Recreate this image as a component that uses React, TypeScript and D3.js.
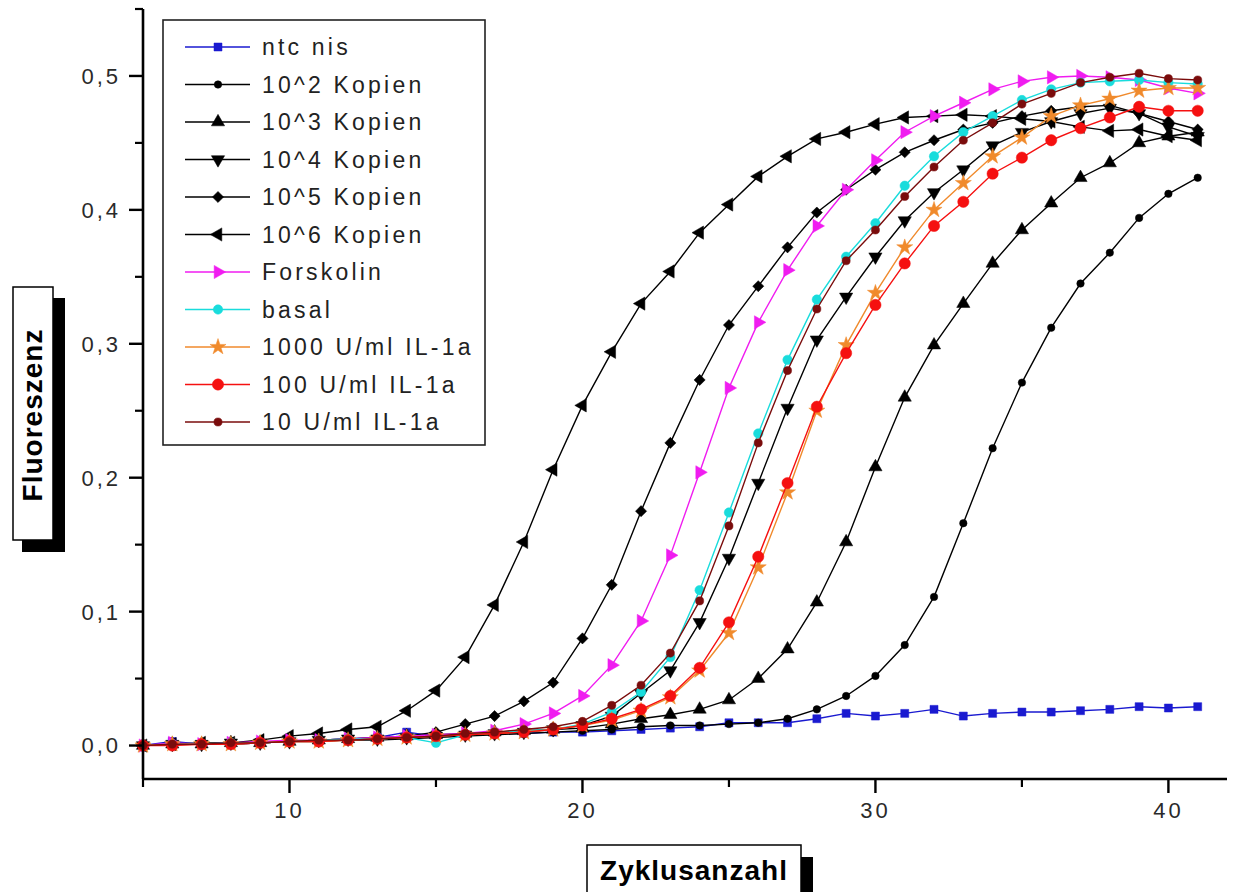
import React from 'react';
import * as d3 from 'd3';

// ---------- data ----------
const cycles = [5, 6, 7, 8, 9, 10, 11, 12, 13, 14, 15, 16, 17, 18, 19, 20, 21, 22, 23, 24, 25, 26, 27, 28, 29, 30, 31, 32, 33, 34, 35, 36, 37, 38, 39, 40, 41];

const ntcNis = [0.000, 0.003, 0.001, 0.001, 0.002, 0.003, 0.004, 0.005, 0.006, 0.010, 0.007, 0.008, 0.009, 0.009, 0.010, 0.010, 0.011, 0.012, 0.013, 0.014, 0.017, 0.017, 0.017, 0.020, 0.024, 0.022, 0.024, 0.027, 0.022, 0.024, 0.025, 0.025, 0.026, 0.027, 0.029, 0.028, 0.029];
const kop2 = [0.000, 0.001, 0.001, 0.001, 0.002, 0.003, 0.003, 0.004, 0.004, 0.005, 0.006, 0.007, 0.008, 0.009, 0.010, 0.011, 0.012, 0.014, 0.015, 0.015, 0.016, 0.017, 0.020, 0.027, 0.037, 0.052, 0.075, 0.111, 0.166, 0.222, 0.271, 0.312, 0.345, 0.368, 0.394, 0.412, 0.424];
const kop3 = [0.000, 0.001, 0.001, 0.002, 0.002, 0.003, 0.004, 0.005, 0.006, 0.007, 0.008, 0.009, 0.010, 0.011, 0.012, 0.013, 0.016, 0.020, 0.023, 0.027, 0.034, 0.050, 0.072, 0.107, 0.152, 0.208, 0.260, 0.299, 0.330, 0.360, 0.385, 0.405, 0.424, 0.435, 0.450, 0.455, 0.458];
const kop4 = [0.000, 0.001, 0.001, 0.002, 0.002, 0.003, 0.004, 0.005, 0.005, 0.006, 0.007, 0.008, 0.009, 0.010, 0.012, 0.015, 0.022, 0.039, 0.056, 0.092, 0.140, 0.196, 0.252, 0.303, 0.335, 0.365, 0.392, 0.413, 0.430, 0.448, 0.458, 0.466, 0.472, 0.476, 0.472, 0.462, 0.455];
const kop5 = [0.000, 0.001, 0.001, 0.002, 0.002, 0.003, 0.004, 0.004, 0.005, 0.007, 0.010, 0.016, 0.022, 0.033, 0.047, 0.080, 0.120, 0.175, 0.226, 0.273, 0.314, 0.343, 0.372, 0.398, 0.415, 0.430, 0.443, 0.452, 0.460, 0.465, 0.470, 0.474, 0.477, 0.478, 0.472, 0.466, 0.460];
const kop6 = [0.000, 0.001, 0.002, 0.002, 0.004, 0.007, 0.009, 0.012, 0.014, 0.026, 0.041, 0.066, 0.105, 0.152, 0.206, 0.254, 0.294, 0.330, 0.354, 0.383, 0.404, 0.425, 0.440, 0.453, 0.458, 0.464, 0.469, 0.470, 0.471, 0.470, 0.468, 0.466, 0.462, 0.459, 0.460, 0.455, 0.452];
const forskolin = [0.000, 0.002, 0.001, 0.002, 0.003, 0.004, 0.004, 0.005, 0.006, 0.007, 0.008, 0.009, 0.011, 0.016, 0.024, 0.037, 0.060, 0.093, 0.142, 0.204, 0.267, 0.316, 0.355, 0.388, 0.415, 0.437, 0.458, 0.470, 0.480, 0.490, 0.496, 0.499, 0.500, 0.499, 0.497, 0.491, 0.487];
const basal = [0.000, 0.001, 0.001, 0.002, 0.002, 0.003, 0.004, 0.005, 0.005, 0.006, 0.002, 0.008, 0.010, 0.011, 0.012, 0.016, 0.025, 0.040, 0.066, 0.116, 0.174, 0.233, 0.288, 0.333, 0.365, 0.390, 0.418, 0.440, 0.458, 0.470, 0.482, 0.490, 0.495, 0.496, 0.497, 0.495, 0.494];
const il1000 = [0.000, 0.001, 0.001, 0.001, 0.002, 0.003, 0.003, 0.004, 0.005, 0.006, 0.007, 0.008, 0.009, 0.010, 0.012, 0.015, 0.019, 0.026, 0.036, 0.056, 0.084, 0.133, 0.189, 0.250, 0.299, 0.338, 0.372, 0.400, 0.420, 0.440, 0.454, 0.470, 0.478, 0.483, 0.489, 0.491, 0.491];
const il100 = [0.000, 0.000, 0.001, 0.001, 0.002, 0.003, 0.003, 0.004, 0.005, 0.006, 0.007, 0.008, 0.009, 0.010, 0.012, 0.015, 0.020, 0.027, 0.037, 0.058, 0.092, 0.141, 0.196, 0.253, 0.293, 0.329, 0.360, 0.388, 0.406, 0.427, 0.439, 0.452, 0.461, 0.469, 0.477, 0.474, 0.474];
const il10 = [0.000, 0.001, 0.001, 0.002, 0.002, 0.003, 0.004, 0.004, 0.005, 0.006, 0.007, 0.009, 0.010, 0.012, 0.014, 0.018, 0.030, 0.045, 0.069, 0.108, 0.164, 0.226, 0.280, 0.326, 0.362, 0.385, 0.410, 0.432, 0.452, 0.465, 0.479, 0.487, 0.495, 0.499, 0.502, 0.498, 0.497];

const seriesNames = ['ntc nis', '10^2 Kopien', '10^3 Kopien', '10^4 Kopien', '10^5 Kopien', '10^6 Kopien', 'Forskolin', 'basal', '1000 U/ml IL-1a', '100 U/ml IL-1a', '10 U/ml IL-1a'];
const seriesValues = [ntcNis, kop2, kop3, kop4, kop5, kop6, forskolin, basal, il1000, il100, il10];
const seriesColors = ['#1a1ad0', '#000000', '#000000', '#000000', '#000000', '#000000', '#f01cf0', '#19dcdc', '#f08a2c', '#f51010', '#7a0c0c'];
const seriesShapes = ['square', 'dot', 'triUp', 'triDown', 'diamond', 'triLeft', 'triRight', 'circle', 'star', 'bigCircle', 'midCircle'];

const xMajor = [10, 20, 30, 40];
const xMinor = [5, 15, 25, 35];
const yMajor = [0, 0.1, 0.2, 0.3, 0.4, 0.5];
const yMinor = [0.05, 0.15, 0.25, 0.35, 0.45, 0.55];

// ---------- layout ----------
const W = 1234;
const H = 892;
const x = d3.scaleLinear().domain([5, 42]).range([143, 1227]);
const y = d3.scaleLinear().domain([-0.025, 0.55]).range([779, 9]);

const FONT = '"Liberation Sans", Arial, sans-serif';

function markerPath(shape: string): { d: string; rot: number } {
  const sym = d3.symbol();
  switch (shape) {
    case 'square': return { d: sym.type(d3.symbolSquare).size(64)() as string, rot: 0 };
    case 'dot': return { d: sym.type(d3.symbolCircle).size(44)() as string, rot: 0 };
    case 'triUp': return { d: sym.type(d3.symbolTriangle).size(76)() as string, rot: 0 };
    case 'triDown': return { d: sym.type(d3.symbolTriangle).size(76)() as string, rot: 180 };
    case 'triLeft': return { d: sym.type(d3.symbolTriangle).size(76)() as string, rot: -90 };
    case 'triRight': return { d: sym.type(d3.symbolTriangle).size(76)() as string, rot: 90 };
    case 'diamond': return { d: sym.type(d3.symbolSquare).size(62)() as string, rot: 45 };
    case 'circle': return { d: sym.type(d3.symbolCircle).size(70)() as string, rot: 0 };
    case 'star': return { d: sym.type(d3.symbolStar).size(80)() as string, rot: 0 };
    case 'bigCircle': return { d: sym.type(d3.symbolCircle).size(100)() as string, rot: 0 };
    case 'midCircle': return { d: sym.type(d3.symbolCircle).size(52)() as string, rot: 0 };
    default: return { d: sym.type(d3.symbolCircle).size(40)() as string, rot: 0 };
  }
}

const line = d3.line<number>().x((_, i) => x(cycles[i])).y((v) => y(v));

const legendX = 163;
const legendY = 20;
const legendW = 322;
const legendH = 425;
const legendRow0 = 47;
const legendStep = 37.5;

export default function App() {
  return (
    <svg width={W} height={H} style={{ position: 'absolute', left: 0, top: 0, background: '#fff' }}>
      <rect x={0} y={0} width={W} height={H} fill="#fff" />

      {/* series */}
      {seriesValues.map((vals, si) => {
        const m = markerPath(seriesShapes[si]);
        const col = seriesColors[si];
        return (
          <g key={si}>
            <path d={line(vals) as string} fill="none" stroke={col} strokeWidth={1.4} />
            {vals.map((v, i) => (
              <path key={i} d={m.d} transform={`translate(${x(cycles[i])},${y(v)}) rotate(${m.rot})`} fill={col} stroke={col} strokeWidth={0.5} />
            ))}
          </g>
        );
      })}

      {/* y axis */}
      <line x1={x(5)} x2={x(5)} y1={y(0.55)} y2={y(-0.025)} stroke="#000" strokeWidth={2.6} />
      {yMajor.map((t) => (
        <g key={'ym' + t}>
          <line x1={x(5) - 14} x2={x(5)} y1={y(t)} y2={y(t)} stroke="#000" strokeWidth={2.4} />
          <text x={x(5) - 22} y={y(t)} dy="0.36em" textAnchor="end" fontFamily={FONT} fontSize={22} letterSpacing={3} fill="#2a2a2a">
            {d3.format('.1f')(t).replace('.', ',')}
          </text>
        </g>
      ))}
      {yMinor.map((t) => (
        <line key={'yn' + t} x1={x(5) - 8} x2={x(5)} y1={y(t)} y2={y(t)} stroke="#000" strokeWidth={2.2} />
      ))}

      {/* x axis */}
      <line x1={x(5)} x2={x(42)} y1={y(-0.025)} y2={y(-0.025)} stroke="#000" strokeWidth={2.6} />
      {xMajor.map((t) => (
        <g key={'xm' + t}>
          <line x1={x(t)} x2={x(t)} y1={y(-0.025)} y2={y(-0.025) + 14} stroke="#000" strokeWidth={2.4} />
          <text x={x(t)} y={818} textAnchor="middle" fontFamily={FONT} fontSize={22} letterSpacing={3} fill="#2a2a2a">
            {String(t)}
          </text>
        </g>
      ))}
      {xMinor.map((t) => (
        <line key={'xn' + t} x1={x(t)} x2={x(t)} y1={y(-0.025)} y2={y(-0.025) + 8} stroke="#000" strokeWidth={2.2} />
      ))}

      {/* legend */}
      <rect x={legendX} y={legendY} width={legendW} height={legendH} fill="#fff" stroke="#222" strokeWidth={1.6} />
      {seriesNames.map((name, si) => {
        const ly = legendRow0 + si * legendStep;
        const m = markerPath(seriesShapes[si]);
        const col = seriesColors[si];
        return (
          <g key={'lg' + si}>
            <line x1={185} x2={250} y1={ly} y2={ly} stroke={col} strokeWidth={1.4} />
            <path d={m.d} transform={`translate(218,${ly}) rotate(${m.rot})`} fill={col} stroke={col} strokeWidth={0.5} />
            <text x={262} y={ly} dy="0.36em" fontFamily={FONT} fontSize={23} letterSpacing={3.2} fill="#222">
              {name}
            </text>
          </g>
        );
      })}

      {/* y axis title */}
      <rect x={22} y={298} width={43} height={254} fill="#000" />
      <rect x={13} y={287} width={40} height={253} fill="#fff" stroke="#000" strokeWidth={1.5} />
      <text transform="translate(42,415) rotate(-90)" textAnchor="middle" fontFamily={FONT} fontWeight="bold" fontSize={28} letterSpacing={1} fill="#000">
        Fluoreszenz
      </text>

      {/* x axis title */}
      <rect x={598} y={857} width={215} height={40} fill="#000" />
      <rect x={587} y={845} width={214} height={50} fill="#fff" stroke="#000" strokeWidth={1.5} />
      <text x={694} y={880} textAnchor="middle" fontFamily={FONT} fontWeight="bold" fontSize={28} letterSpacing={1} fill="#000">
        Zyklusanzahl
      </text>
    </svg>
  );
}
